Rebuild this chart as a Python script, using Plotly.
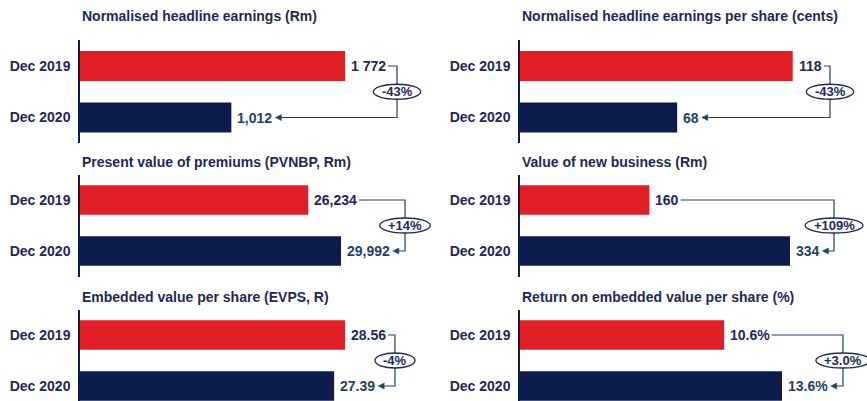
import plotly.graph_objects as go

# ---------------- data ----------------
periods = ["Dec 2019", "Dec 2020"]
titles = [
    "Normalised headline earnings (Rm)",
    "Normalised headline earnings per share (cents)",
    "Present value of premiums (PVNBP, Rm)",
    "Value of new business (Rm)",
    "Embedded value per share (EVPS, R)",
    "Return on embedded value per share (%)",
]
values_2019 = [1772, 118, 26234, 160, 28.56, 10.6]
values_2020 = [1012, 68, 29992, 334, 27.39, 13.6]
labels_2019 = ["1 772", "118", "26,234", "160", "28.56", "10.6%"]
labels_2020 = ["1,012", "68", "29,992", "334", "27.39", "13.6%"]
changes = ["-43%", "-43%", "+14%", "+109%", "-4%", "+3.0%"]

# ---------------- styling / layout ----------------
W, H = 867, 401
RED = "#e11d25"
NAVY = "#0c1d4d"
TXT = "#1b2a5a"
TEAL = "#1d4466"
FONT = "Liberation Sans, Arial, sans-serif"

axis_x = [80, 520]          # px position of each column's axis line
plot_w = 340                 # px width of each x domain
row_top = [40.25, 174.5, 309.5]
unit = [51.5, 51.0, 51.0]    # px per category
x_max = [2273.5, 147.1, 39070, 420.6, 36.64, 17.65]
title_y = [16, 162, 297]
conn_x = [397, 830, 405, 834, 395, 843]

CW = {"0": .556, "1": .556, "2": .556, "3": .556, "4": .556, "5": .556,
      "6": .556, "7": .556, "8": .556, "9": .556, " ": .278, ",": .278,
      ".": .278, "%": .889, "+": .584, "-": .333}


def tw(s, size):
    return sum(CW.get(ch, .6) for ch in s) * size


def px(x):
    return x / W


def py(y):
    return 1 - y / H


fig = go.Figure()
layout = dict(width=W, height=H, margin=dict(l=0, r=0, t=0, b=0),
              paper_bgcolor="white", plot_bgcolor="white", showlegend=False,
              font=dict(family=FONT, color=TXT))
annotations = []
shapes = []

for i in range(6):
    r, c = divmod(i, 2)
    n = "" if i == 0 else str(i + 1)
    ax0 = axis_x[c]
    top = row_top[r]
    bot = min(top + 2 * unit[r], H)
    yrange = [-0.5 + (bot - top) / unit[r], -0.5]

    fig.add_trace(go.Bar(
        x=[values_2019[i], values_2020[i]], y=periods, orientation="h",
        marker=dict(color=[RED, NAVY], line=dict(width=0)), width=0.58,
        xaxis="x" + n, yaxis="y" + n, hoverinfo="skip"))

    layout["xaxis" + n] = dict(domain=[px(ax0), px(ax0 + plot_w)],
                               range=[0, x_max[i]], visible=False,
                               anchor="y" + n, fixedrange=True)
    layout["yaxis" + n] = dict(domain=[py(bot), py(top)], range=yrange,
                               type="category", anchor="x" + n,
                               showline=True, linecolor=NAVY, linewidth=1.5,
                               showgrid=False, zeroline=False, ticks="",
                               ticklabelstandoff=5,
                               tickfont=dict(size=14, color=TXT, weight="bold",
                                             family=FONT),
                               fixedrange=True)

    # title
    annotations.append(dict(xref="paper", yref="paper", x=px(ax0), y=py(title_y[r]),
                            xanchor="left", yanchor="middle", showarrow=False,
                            text=titles[i],
                            font=dict(size=14, color=TXT, weight="bold", family=FONT)))
    # value labels
    for k, (v, lab, col) in enumerate([(values_2019[i], labels_2019[i], TXT),
                                        (values_2020[i], labels_2020[i], TEAL)]):
        annotations.append(dict(xref="x" + n, yref="y" + n, x=v, y=k,
                                xanchor="left", yanchor="middle", xshift=4,
                                showarrow=False, text=lab,
                                font=dict(size=14, color=col, weight="bold", family=FONT)))

    # connector
    cy0 = top + unit[r] * 0.5
    cy1 = top + unit[r] * 1.5
    end0 = ax0 + values_2019[i] / x_max[i] * plot_w
    end1 = ax0 + values_2020[i] / x_max[i] * plot_w
    start0 = end0 + 4 + tw(labels_2019[i], 14) + 4
    tip = end1 + 4 + tw(labels_2020[i], 14) + 5
    cx = conn_x[i]
    shapes.append(dict(type="path", xref="paper", yref="paper",
                       path=f"M {px(start0)},{py(cy0)} L {px(cx)},{py(cy0)} "
                            f"L {px(cx)},{py(cy1)} L {px(tip + 4)},{py(cy1)}",
                       line=dict(color=TEAL, width=1.2)))
    shapes.append(dict(type="path", xref="paper", yref="paper",
                       path=f"M {px(tip)},{py(cy1)} L {px(tip + 6)},{py(cy1 - 3)} "
                            f"L {px(tip + 6)},{py(cy1 + 3)} Z",
                       fillcolor=TEAL, line=dict(color=TEAL, width=0.5)))
    # oval
    ow = tw(changes[i], 13) + 17
    oh = 15
    my = (cy0 + cy1) / 2
    shapes.append(dict(type="circle", xref="paper", yref="paper",
                       x0=px(cx - ow / 2), x1=px(cx + ow / 2),
                       y0=py(my + oh / 2), y1=py(my - oh / 2),
                       fillcolor="white", line=dict(color=TXT, width=1.3)))
    annotations.append(dict(xref="paper", yref="paper", x=px(cx), y=py(my),
                            xanchor="center", yanchor="middle", showarrow=False,
                            text=changes[i],
                            font=dict(size=13, color=TXT, weight="bold", family=FONT)))

layout["annotations"] = annotations
layout["shapes"] = shapes
fig.update_layout(**layout)
fig.write_html("out.html", config={"displayModeBar": False},
               post_script="document.body.style.margin='0';document.body.style.overflow='hidden';")
